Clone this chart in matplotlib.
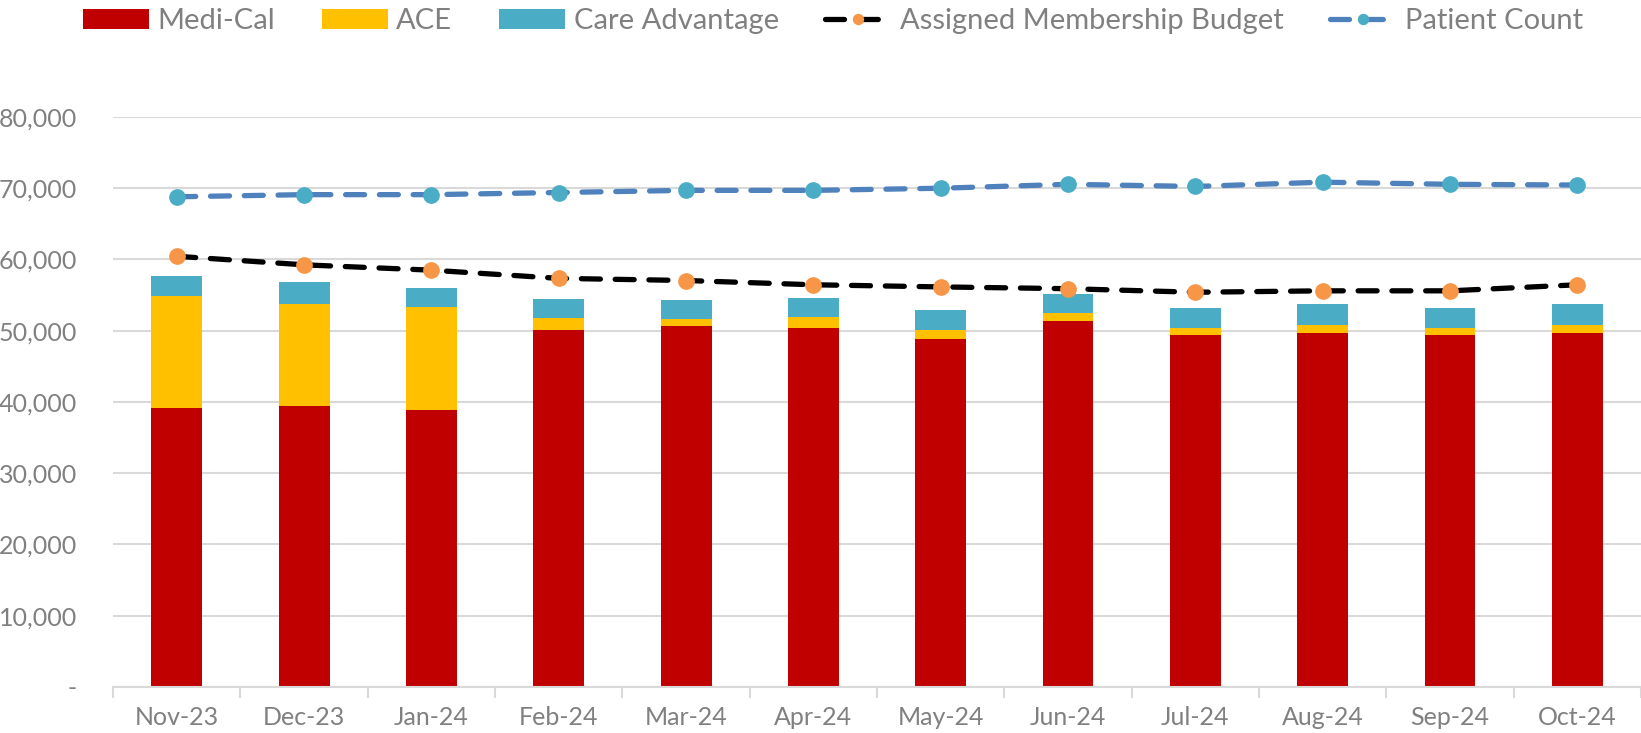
import numpy as np
import matplotlib
matplotlib.use('Agg')
import matplotlib.pyplot as plt
from matplotlib.ticker import FuncFormatter, FixedLocator

# dados
months = ['Nov-23', 'Dec-23', 'Jan-24', 'Feb-24', 'Mar-24', 'Apr-24',
          'May-24', 'Jun-24', 'Jul-24', 'Aug-24', 'Sep-24', 'Oct-24']
medi_cal = [39200, 39500, 38900, 50100, 50700, 50400, 48800, 51300, 49400, 49700, 49400, 49700]
ace = [15650, 14300, 14450, 1750, 900, 1500, 1300, 1150, 1050, 1150, 1050, 1150]
care_adv = [2800, 3100, 2650, 2650, 2650, 2650, 2800, 2650, 2800, 2950, 2800, 2950]
budget = [60450, 59250, 58500, 57350, 57050, 56450, 56150, 55900, 55400, 55600, 55600, 56450]
patients = [68800, 69100, 69100, 69400, 69700, 69700, 70000, 70550, 70250, 70850, 70550, 70450]

plt.rcParams['font.family'] = ['Lato', 'DejaVu Sans']
grey_txt = '#808080'
grid_c = '#d9d9d9'

fig = plt.figure(figsize=(16.41, 7.33), dpi=100)
ax = fig.add_axes([0.0689, 0.0628, 0.9311, 0.7776])

x = np.arange(len(months))
w = 0.40
b1 = ax.bar(x, medi_cal, w, color='#C00000', label='Medi-Cal', zorder=2)
b2 = ax.bar(x, ace, w, bottom=medi_cal, color='#FFC000', label='ACE', zorder=2)
bottom2 = np.array(medi_cal) + np.array(ace)
b3 = ax.bar(x, care_adv, w, bottom=bottom2, color='#4BACC6', label='Care Advantage', zorder=2)

l1, = ax.plot(x, budget, color='black', lw=3.8, dashes=(3.6, 2.8), dash_capstyle='round',
              marker='o', ms=11, mfc='#F79646', mec='#F79646', label='Assigned Membership Budget', zorder=3)
l2, = ax.plot(x, patients, color='#4F81BD', lw=3.8, dashes=(3.6, 2.8), dash_capstyle='round',
              marker='o', ms=11, mfc='#4BACC6', mec='#4BACC6', label='Patient Count', zorder=3)

ax.set_xlim(-0.5, len(months) - 0.5)
ax.set_ylim(0, 80000)
ax.set_yticks(np.arange(0, 80001, 10000))
ax.yaxis.set_major_formatter(FuncFormatter(lambda v, p: '-' if v == 0 else f'{int(v):,}'))
ax.yaxis.grid(True, color=grid_c, lw=1.5, zorder=0)
ax.set_axisbelow(True)

ax.set_xticks(x)
ax.set_xticklabels(months)
ax.xaxis.set_minor_locator(FixedLocator(np.arange(-0.5, len(months), 1)))
ax.tick_params(axis='x', which='major', length=0, pad=14, labelsize=18, labelcolor=grey_txt)
ax.tick_params(axis='x', which='minor', length=8, width=1.5, color=grid_c)
ax.tick_params(axis='y', length=0, pad=26, labelsize=18, labelcolor=grey_txt)

for s in ['top', 'right', 'left']:
    ax.spines[s].set_visible(False)
ax.spines['bottom'].set_color(grid_c)
ax.spines['bottom'].set_linewidth(1.5)

fig.legend(handles=[b1, b2, b3, l1, l2], loc='upper center', bbox_to_anchor=(0.5076, 1.025),
           ncol=5, frameon=False, fontsize=21, labelcolor=grey_txt,
           handlelength=2.26, handleheight=0.7, markerscale=0.65,
           columnspacing=1.6, handletextpad=0.3)

fig.savefig('out.png', dpi=100)
